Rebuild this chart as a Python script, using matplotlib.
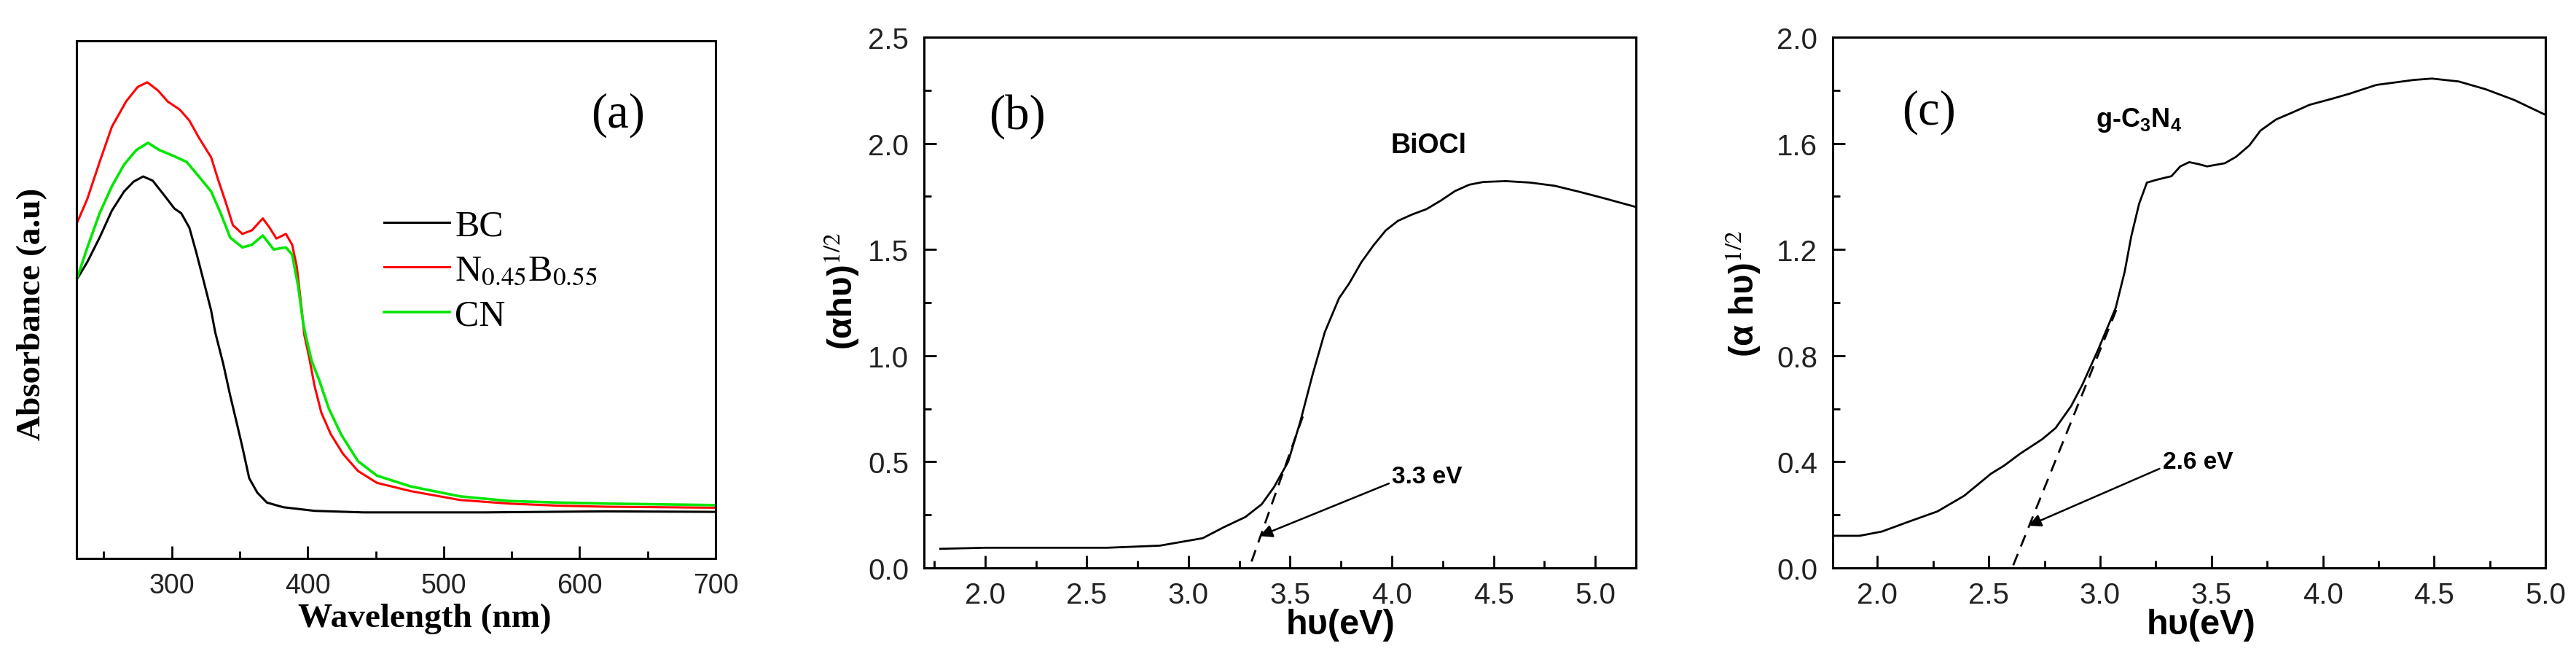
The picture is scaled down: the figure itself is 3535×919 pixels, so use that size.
import matplotlib
matplotlib.use("Agg")
import matplotlib.pyplot as plt
from matplotlib.font_manager import FontProperties
from matplotlib.ticker import MultipleLocator

# -----------------------------
# Data
# -----------------------------
# (a) UV-vis absorbance (arbitrary units)
bc_wl = [230, 238, 247, 256, 265, 272, 279, 286, 295, 302, 307, 313, 318,
         323.5, 329, 332, 338, 343, 348, 352, 357, 363, 370, 382, 405, 441,
         530, 619, 700]
bc_abs = [0.538, 0.573, 0.620, 0.672, 0.709, 0.728, 0.738, 0.730, 0.700,
          0.676, 0.667, 0.639, 0.592, 0.536, 0.479, 0.437, 0.375, 0.315,
          0.260, 0.215, 0.155, 0.127, 0.108, 0.099, 0.092, 0.089, 0.089,
          0.091, 0.090]

nb_wl = [230, 238, 247, 256, 266.5, 275, 282, 290, 297, 306, 313, 320, 329,
         334, 340, 345, 352, 359, 367, 372, 377, 384, 388.6, 392, 395.7,
         397.5, 401, 405, 410, 417, 426, 437, 451, 476, 512, 548, 584, 619,
         700]
nb_abs = [0.646, 0.695, 0.766, 0.834, 0.883, 0.911, 0.920, 0.904, 0.883,
          0.867, 0.846, 0.813, 0.775, 0.733, 0.686, 0.644, 0.627, 0.634,
          0.657, 0.639, 0.618, 0.627, 0.606, 0.564, 0.479, 0.432, 0.390,
          0.334, 0.282, 0.240, 0.202, 0.169, 0.146, 0.130, 0.113, 0.106,
          0.102, 0.100, 0.098]

cn_wl = [230, 238, 247, 256, 265, 274, 282.5, 291, 302, 311, 320, 329, 336,
         343, 352, 359, 367, 375, 384, 388.6, 393, 396.6, 398.6, 403, 408.4,
         415.5, 424.5, 437, 451, 476, 512, 548, 584, 619, 700]
cn_abs = [0.538, 0.601, 0.667, 0.719, 0.761, 0.789, 0.803, 0.789, 0.777,
          0.766, 0.738, 0.709, 0.667, 0.620, 0.601, 0.606, 0.624, 0.597,
          0.601, 0.587, 0.526, 0.456, 0.430, 0.381, 0.345, 0.290, 0.240,
          0.188, 0.160, 0.139, 0.120, 0.111, 0.108, 0.106, 0.103]

legend_labels = ["BC", r"N$_{0.45}$B$_{0.55}$", "CN"]

# (b) BiOCl Tauc plot
b_ev = [1.78, 2.0, 2.3, 2.6, 2.86, 2.98, 3.07, 3.17, 3.28, 3.36, 3.42, 3.49,
        3.55, 3.61, 3.67, 3.74, 3.79, 3.85, 3.91, 3.97, 4.03, 4.10, 4.17,
        4.24, 4.31, 4.38, 4.45, 4.56, 4.68, 4.80, 4.92, 5.04, 5.20]
b_val = [0.09, 0.095, 0.095, 0.095, 0.105, 0.125, 0.14, 0.19, 0.24, 0.30,
         0.38, 0.50, 0.69, 0.91, 1.11, 1.27, 1.34, 1.44, 1.52, 1.59, 1.635,
         1.665, 1.69, 1.73, 1.775, 1.805, 1.818, 1.822, 1.815, 1.80, 1.772,
         1.742, 1.70]
b_fit_x = [3.31, 3.57]
b_fit_y = [0.03, 0.735]

# (c) g-C3N4 Tauc plot
c_ev = [1.81, 1.92, 2.02, 2.14, 2.27, 2.39, 2.51, 2.57, 2.64, 2.74, 2.80,
        2.87, 2.92, 2.99, 3.07, 3.11, 3.14, 3.175, 3.21, 3.26, 3.32, 3.36,
        3.40, 3.44, 3.48, 3.56, 3.61, 3.67, 3.72, 3.79, 3.86, 3.94, 4.05,
        4.12, 4.24, 4.41, 4.49, 4.61, 4.73, 4.86, 5.0]
c_val = [0.121, 0.121, 0.137, 0.174, 0.213, 0.272, 0.355, 0.386, 0.430,
         0.485, 0.527, 0.610, 0.690, 0.820, 0.980, 1.115, 1.250, 1.372,
         1.452, 1.464, 1.476, 1.513, 1.529, 1.522, 1.513, 1.525, 1.549,
         1.592, 1.648, 1.690, 1.715, 1.745, 1.770, 1.787, 1.820, 1.839,
         1.844, 1.833, 1.804, 1.763, 1.707]
c_fit_x = [2.61, 3.085]
c_fit_y = [0.01, 0.998]

# -----------------------------
# Style
# -----------------------------
plt.rcParams.update({
    "font.family": "Liberation Sans",
    "mathtext.fontset": "custom",
    "mathtext.rm": "Liberation Sans",
    "mathtext.bf": "Liberation Sans:bold",
    "mathtext.it": "Liberation Sans:italic",
    "axes.linewidth": 2.2,
})

SERIF = "Liberation Serif"
TICK_COLOR = "#222222"


def style_axes(ax, labelsize, xpad, ypad):
    ax.tick_params(which="both", direction="in", width=2.0, colors="k",
                   labelcolor=TICK_COLOR, labelsize=labelsize)
    ax.tick_params(which="major", length=12)
    ax.tick_params(which="minor", length=7)
    ax.tick_params(axis="x", pad=xpad)
    ax.tick_params(axis="y", pad=ypad)


fig = plt.figure(figsize=(35.35, 9.2), dpi=100)

# ============================================================
# (a) absorbance spectra
# ============================================================
ax_a = fig.add_axes([0.0297, 0.1663, 0.2481, 0.7717])
ax_a.plot(bc_wl, bc_abs, color="black", lw=2.2, label=legend_labels[0])
ax_a.plot(nb_wl, nb_abs, color="#ff0000", lw=2.2, label=legend_labels[1])
ax_a.plot(cn_wl, cn_abs, color="#00e600", lw=2.6, label=legend_labels[2])
ax_a.set_xlim(230, 700)
ax_a.set_ylim(0, 1)
ax_a.xaxis.set_major_locator(MultipleLocator(100))
ax_a.xaxis.set_minor_locator(MultipleLocator(50))
style_axes(ax_a, 27, 14, 10)
ax_a.tick_params(axis="y", which="both", left=False, labelleft=False)
ax_a.set_xlabel("Wavelength (nm)", family=SERIF, fontweight="bold", fontsize=34)
ax_a.xaxis.set_label_coords(0.545, -0.085)
ax_a.set_ylabel("Absorbance (a.u)", family=SERIF, fontweight="bold", fontsize=34)
ax_a.yaxis.set_label_coords(-0.045, 0.473)
ax_a.text(628, 0.858, "(a)", family=SERIF, fontsize=48, ha="center", va="center")
leg_font = FontProperties(family=SERIF, size=36, math_fontfamily="stix")
ax_a.legend(loc="upper left", bbox_to_anchor=(0.481, 0.675), prop=leg_font,
            frameon=False, handlelength=1.8, handletextpad=0.15,
            labelspacing=0.3, borderpad=0, borderaxespad=0)

# ============================================================
# (b) BiOCl
# ============================================================
ax_b = fig.add_axes([0.3587, 0.1522, 0.2764, 0.7913])
ax_b.plot(b_ev, b_val, color="black", lw=2.0)
ax_b.plot(b_fit_x, b_fit_y, color="black", lw=2.0, ls=(0, (6, 4)))
ax_b.set_xlim(1.7, 5.2)
ax_b.set_ylim(0, 2.5)
ax_b.xaxis.set_major_locator(MultipleLocator(0.5))
ax_b.xaxis.set_minor_locator(MultipleLocator(0.25))
ax_b.yaxis.set_major_locator(MultipleLocator(0.5))
ax_b.yaxis.set_minor_locator(MultipleLocator(0.25))
ax_b.xaxis.set_major_formatter(lambda v, p: f"{v:.1f}")
ax_b.yaxis.set_major_formatter(lambda v, p: f"{v:.1f}")
style_axes(ax_b, 29, 13, 15)
ax_b.set_xlabel("h\u03c5(eV)", fontweight="bold", fontsize=35)
ax_b.xaxis.set_label_coords(0.585, -0.075)
ax_b.set_ylabel("(\u03b1h\u03c5)$^{1/2}$", fontweight="bold", fontsize=34,
                math_fontfamily="stix")
ax_b.yaxis.set_label_coords(-0.088, 0.523)
ax_b.text(2.16, 2.13, "(b)", family=SERIF, fontsize=48, ha="center", va="center")
ax_b.text(4.18, 1.99, "BiOCl", fontweight="bold", fontsize=27,
          ha="center", va="center")
ax_b.annotate("3.3 eV", xy=(3.35, 0.15), xytext=(4.0, 0.43),
              fontweight="bold", fontsize=24, ha="left", va="center",
              arrowprops=dict(arrowstyle="-|>", lw=1.8, color="black",
                              mutation_scale=26, shrinkA=1, shrinkB=0,
                              relpos=(0.0, 0.25)))

# ============================================================
# (c) g-C3N4
# ============================================================
ax_c = fig.add_axes([0.7115, 0.1522, 0.2767, 0.7913])
ax_c.plot(c_ev, c_val, color="black", lw=2.0)
ax_c.plot(c_fit_x, c_fit_y, color="black", lw=2.0, ls=(0, (6, 4)))
ax_c.set_xlim(1.8, 5.0)
ax_c.set_ylim(0, 2.0)
ax_c.xaxis.set_major_locator(MultipleLocator(0.5))
ax_c.xaxis.set_minor_locator(MultipleLocator(0.25))
ax_c.yaxis.set_major_locator(MultipleLocator(0.4))
ax_c.yaxis.set_minor_locator(MultipleLocator(0.2))
ax_c.xaxis.set_major_formatter(lambda v, p: f"{v:.1f}")
ax_c.yaxis.set_major_formatter(lambda v, p: f"{v:.1f}")
style_axes(ax_c, 29, 13, 15)
ax_c.set_xlabel("h\u03c5(eV)", fontweight="bold", fontsize=35)
ax_c.xaxis.set_label_coords(0.517, -0.075)
ax_c.set_ylabel("(\u03b1 h\u03c5)$^{1/2}$", fontweight="bold", fontsize=34,
                math_fontfamily="stix")
ax_c.yaxis.set_label_coords(-0.098, 0.518)
ax_c.text(2.23, 1.72, "(c)", family=SERIF, fontsize=48, ha="center", va="center")
ax_c.text(2.98, 1.69, r"g-C$_\mathbf{3}$N$_\mathbf{4}$", fontweight="bold",
          fontsize=26, ha="left", va="center")
ax_c.annotate("2.6 eV", xy=(2.678, 0.159), xytext=(3.28, 0.40),
              fontweight="bold", fontsize=24, ha="left", va="center",
              arrowprops=dict(arrowstyle="-|>", lw=1.8, color="black",
                              mutation_scale=26, shrinkA=1, shrinkB=0,
                              relpos=(0.0, 0.25)))

fig.savefig("out.png", dpi=100)
